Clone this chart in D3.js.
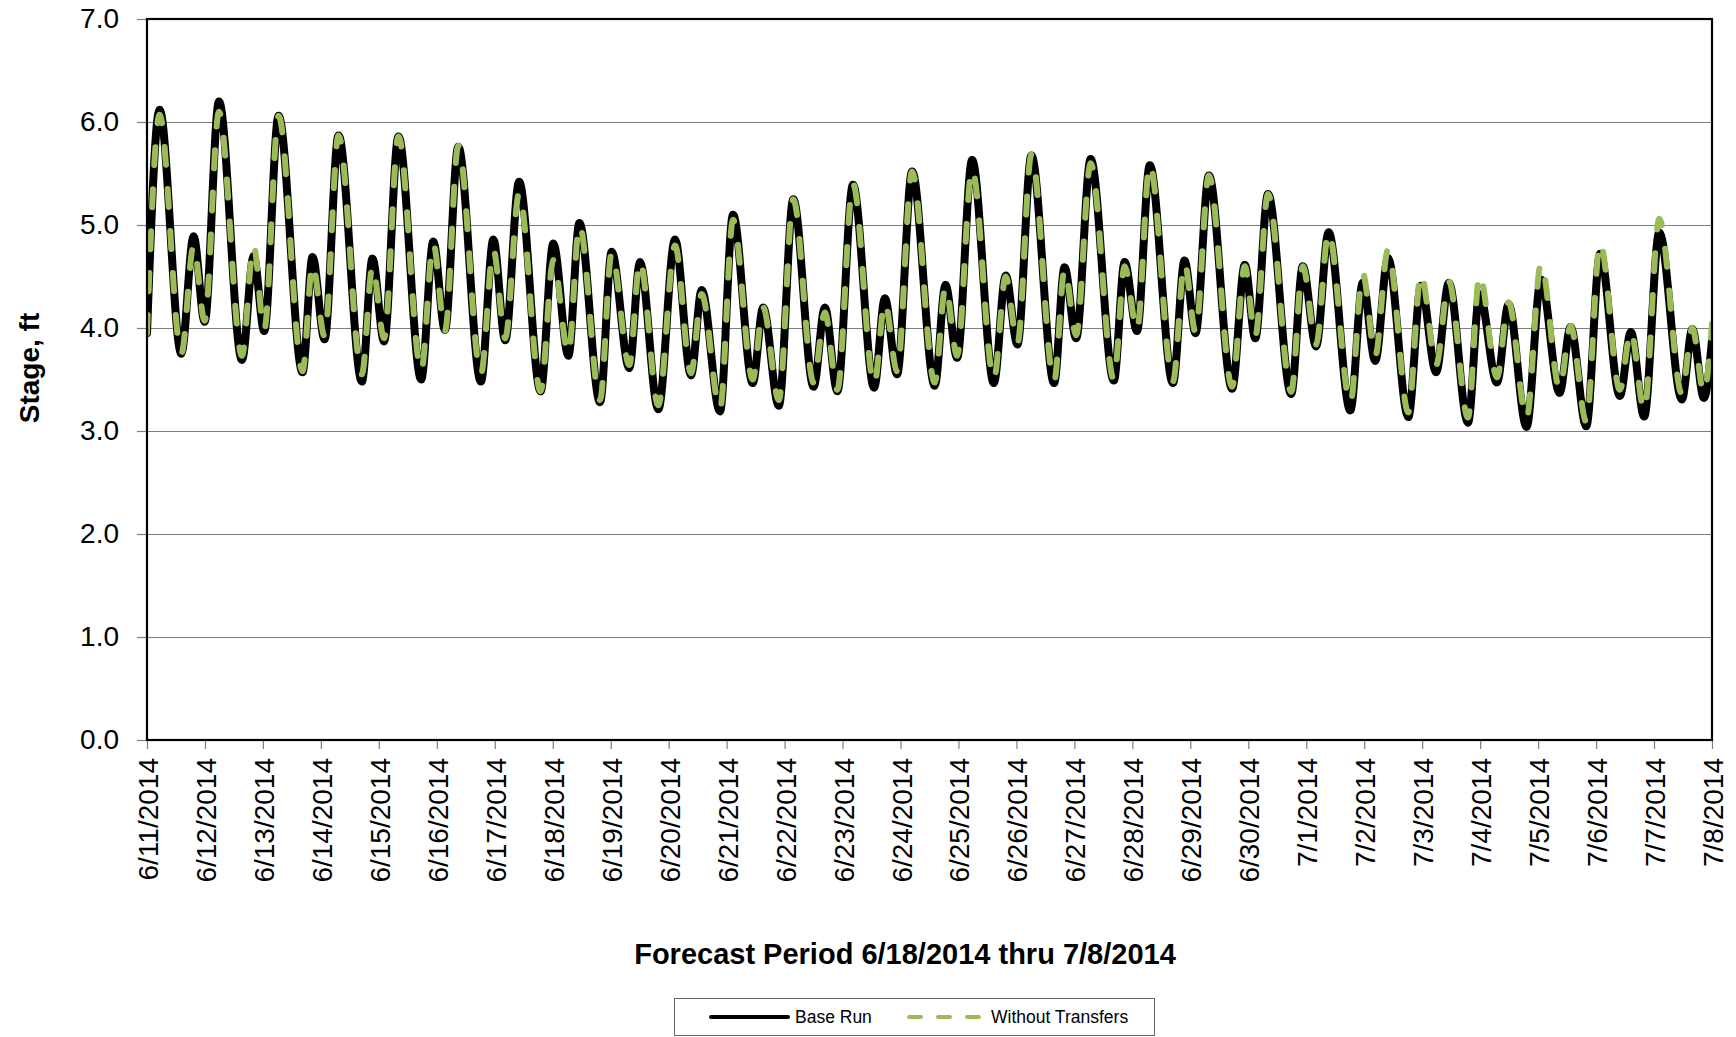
<!DOCTYPE html>
<html><head><meta charset="utf-8">
<script src="https://cdn.jsdelivr.net/npm/d3@7"></script>
<style>
body{margin:0;background:#fff;}
svg{display:block;font-family:"Liberation Sans",Arial,Helvetica,sans-serif;}
</style>
</head><body>
<svg id="chart" width="1736" height="1037"></svg>
<script>
// ---- data ----
const dateLabels = ["6/11/2014","6/12/2014","6/13/2014","6/14/2014","6/15/2014","6/16/2014","6/17/2014",
  "6/18/2014","6/19/2014","6/20/2014","6/21/2014","6/22/2014","6/23/2014","6/24/2014","6/25/2014",
  "6/26/2014","6/27/2014","6/28/2014","6/29/2014","6/30/2014","7/1/2014","7/2/2014","7/3/2014",
  "7/4/2014","7/5/2014","7/6/2014","7/7/2014","7/8/2014"];
const yTickValues = [0,1,2,3,4,5,6,7];
const seriesNames = ["Base Run","Without Transfers"];
const xTitle = "Forecast Period 6/18/2014 thru 7/8/2014";
const yTitle = "Stage, ft";

// time of each tidal turning point, days after 6/11/2014 00:00
const dayOffsets = [0.00,0.217,0.592,0.804,0.994,1.241,1.638,1.84,2.022,2.27,2.683,2.856,3.063,3.304,
  3.707,3.89,4.09,4.338,4.73,4.94,5.14,5.37,5.76,5.976,6.18,6.42,6.79,7.01,7.27,7.46,7.816,8.017,8.32,
  8.505,8.82,9.11,9.385,9.57,9.885,10.11,10.45,10.63,10.90,11.15,11.50,11.695,11.91,12.18,12.545,12.73,
  12.94,13.20,13.59,13.776,13.976,14.235,14.61,14.815,15.017,15.258,15.65,15.83,16.03,16.28,16.68,16.867,
  17.08,17.30,17.70,17.90,18.09,18.32,18.72,18.94,19.12,19.34,19.74,19.94,20.17,20.385,20.76,20.975,
  21.19,21.41,21.76,21.98,22.24,22.46,22.79,22.99,23.29,23.49,23.80,24.05,24.37,24.56,24.83,25.07,25.41,
  25.60,25.83,26.09,26.48,26.66,26.86,27.00];
const baseRun = [3.95,6.12,3.75,4.89,4.06,6.20,3.69,4.70,3.97,6.06,3.57,4.69,3.89,5.87,
  3.48,4.675,3.87,5.86,3.50,4.84,3.98,5.76,3.48,4.86,3.88,5.42,3.385,4.82,3.73,5.02,3.28,4.74,3.61,
  4.64,3.21,4.86,3.54,4.37,3.19,5.10,3.465,4.20,3.245,5.25,3.43,4.20,3.385,5.39,3.42,4.29,
  3.55,5.52,3.44,4.42,3.71,5.63,3.465,4.51,3.84,5.675,3.465,4.59,3.90,5.64,3.49,4.64,
  3.97,5.58,3.465,4.655,3.95,5.48,3.41,4.615,3.90,5.30,3.36,4.60,3.82,4.93,3.20,4.44,
  3.68,4.68,3.135,4.41,3.57,4.44,3.08,4.33,3.47,4.23,3.04,4.47,3.37,4.01,3.045,4.72,3.34,
  3.96,3.14,4.93,3.305,3.99,3.32,3.88];
const withoutTransfers = [3.95,6.07,3.75,4.80,4.07,6.10,3.73,4.80,3.98,6.06,3.58,4.62,3.92,5.87,
  3.55,4.60,3.90,5.86,3.58,4.82,3.97,5.77,3.55,4.76,3.90,5.31,3.385,4.66,3.75,5.00,3.30,4.73,3.64,
  4.65,3.25,4.80,3.56,4.33,3.21,5.05,3.50,4.20,3.30,5.25,3.47,4.15,3.40,5.40,3.45,4.25,
  3.58,5.52,3.47,4.40,3.73,5.545,3.50,4.50,3.85,5.685,3.48,4.57,3.93,5.60,3.50,4.60,
  3.98,5.59,3.48,4.63,3.96,5.48,3.43,4.60,3.92,5.30,3.38,4.60,3.84,4.93,3.27,4.53,
  3.73,4.76,3.18,4.53,3.64,4.45,3.13,4.52,3.52,4.25,3.12,4.63,3.41,4.02,3.09,4.83,3.40,
  3.97,3.20,5.06,3.36,4.00,3.37,4.04];

// ---- layout ----
const svg = d3.select("#chart");
const L = 147, R = 1712, T = 19, B = 740;
const x = d3.scaleLinear().domain([0, dateLabels.length - 1]).range([L, R]);
const y = d3.scaleLinear().domain([0, 7]).range([B, T]);

// gridlines
svg.append("g").selectAll("line").data(yTickValues.filter(v => v > 0 && v < 7)).join("line")
  .attr("x1", L).attr("x2", R).attr("y1", d => y(d)).attr("y2", d => y(d))
  .attr("stroke", "#7f7f7f").attr("stroke-width", 1).attr("shape-rendering", "crispEdges");

// y axis
const yAxis = svg.append("g").attr("transform", `translate(${L},0)`)
  .call(d3.axisLeft(y).tickValues(yTickValues).tickSize(10).tickPadding(18).tickFormat(d3.format(".1f")));
yAxis.select(".domain").remove();
yAxis.selectAll(".tick line").attr("stroke", "#7f7f7f").attr("stroke-width", 1.2);
yAxis.selectAll(".tick text").attr("font-size", 28).attr("fill", "#000")
  .attr("font-family", '"Liberation Sans", Arial, sans-serif');

// x axis
const xAxis = svg.append("g").attr("transform", `translate(0,${B})`)
  .call(d3.axisBottom(x).tickValues(d3.range(dateLabels.length)).tickSize(9).tickFormat(i => dateLabels[i]));
xAxis.select(".domain").remove();
xAxis.selectAll(".tick line").attr("stroke", "#7f7f7f").attr("stroke-width", 1.2);
xAxis.selectAll(".tick text")
  .attr("font-size", 28).attr("fill", "#000")
  .attr("font-family", '"Liberation Sans", Arial, sans-serif')
  .attr("transform", "rotate(-90)")
  .attr("text-anchor", "end")
  .attr("x", -18).attr("y", 10.5).attr("dy", 0);

// clip
svg.append("clipPath").attr("id", "plotclip").append("rect")
  .attr("x", L).attr("y", T).attr("width", R - L).attr("height", B - T);

const line = d3.line()
  .x((d, i) => x(dayOffsets[i]))
  .y(d => y(d))
  .curve(d3.curveMonotoneX);

const plot = svg.append("g").attr("clip-path", "url(#plotclip)");
plot.append("path").datum(baseRun).attr("d", line)
  .attr("fill", "none").attr("stroke", "#000").attr("stroke-width", 8)
  .attr("stroke-linejoin", "round").attr("stroke-linecap", "round");
plot.append("path").datum(withoutTransfers).attr("d", line)
  .attr("fill", "none").attr("stroke", "#9BBB59").attr("stroke-width", 6)
  .attr("stroke-linejoin", "round").attr("stroke-linecap", "round")
  .attr("stroke-dasharray", "18,24");

// frame
svg.append("rect").attr("x", L).attr("y", T).attr("width", R - L).attr("height", B - T)
  .attr("fill", "none").attr("stroke", "#000").attr("stroke-width", 2.2);

// titles
svg.append("text").attr("x", 905).attr("y", 964).attr("text-anchor", "middle")
  .attr("font-size", 29).attr("font-weight", "bold").text(xTitle);
svg.append("text").attr("transform", "translate(39,368) rotate(-90)").attr("text-anchor", "middle")
  .attr("font-size", 28).attr("font-weight", "bold").text(yTitle);

// legend
const lg = svg.append("g");
lg.append("rect").attr("x", 674.5).attr("y", 998.5).attr("width", 480).attr("height", 37)
  .attr("fill", "#fff").attr("stroke", "#666").attr("stroke-width", 1);
lg.append("line").attr("x1", 711).attr("x2", 788).attr("y1", 1017).attr("y2", 1017)
  .attr("stroke", "#000").attr("stroke-width", 4).attr("stroke-linecap", "round");
lg.append("text").attr("x", 795).attr("y", 1023).attr("font-size", 17.5).text(seriesNames[0]);
lg.append("line").attr("x1", 909).attr("x2", 981).attr("y1", 1017).attr("y2", 1017)
  .attr("stroke", "#9BBB59").attr("stroke-width", 4).attr("stroke-linecap", "round")
  .attr("stroke-dasharray", "12,17");
lg.append("text").attr("x", 991).attr("y", 1023).attr("font-size", 17.5).text(seriesNames[1]);
</script>
</body></html>
